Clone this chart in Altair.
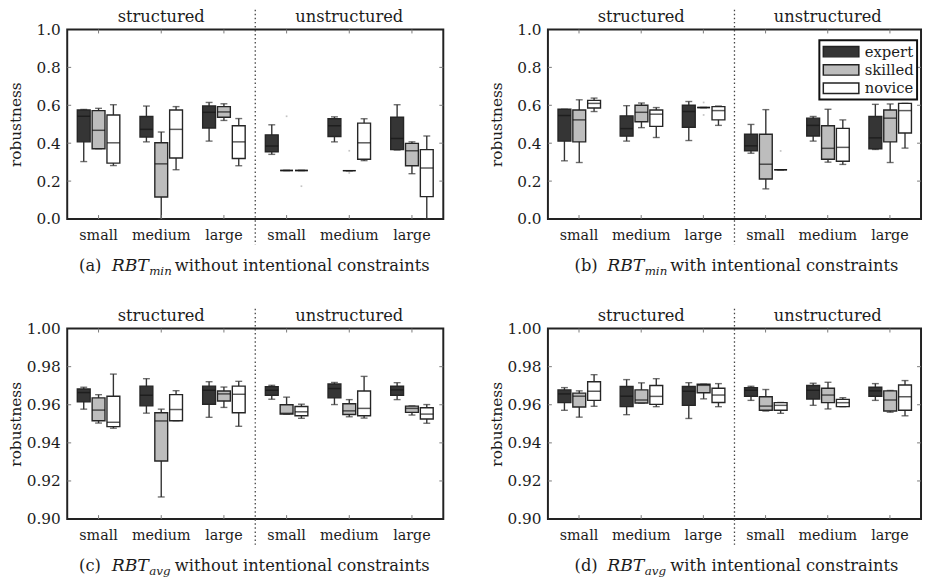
import altair as alt
import pandas as pd

groups = ["structured small", "structured medium", "structured large",
          "unstructured small", "unstructured medium", "unstructured large"]
levels = ["expert", "skilled", "novice"]
level_fill = ["#353535", "#bdbdbd", "#ffffff"]

# (low whisker, q1, median, q3, high whisker) per group
a_expert = [(0.303, 0.407, 0.542, 0.575, 0.578), (0.407, 0.433, 0.473, 0.541, 0.596),
            (0.411, 0.480, 0.563, 0.596, 0.615), (0.341, 0.355, 0.385, 0.444, 0.497),
            (0.407, 0.435, 0.492, 0.529, 0.539), (0.364, 0.366, 0.425, 0.537, 0.603)]
a_skilled = [(0.371, 0.371, 0.468, 0.572, 0.584), (0.000, 0.116, 0.291, 0.402, 0.459),
             (0.520, 0.537, 0.565, 0.593, 0.608), (0.256, 0.256, 0.256, 0.256, 0.256),
             (0.255, 0.255, 0.255, 0.255, 0.255), (0.239, 0.281, 0.360, 0.399, 0.407)]
a_novice = [(0.282, 0.295, 0.402, 0.549, 0.603), (0.260, 0.322, 0.473, 0.575, 0.593),
            (0.281, 0.319, 0.407, 0.492, 0.530), (0.256, 0.256, 0.256, 0.256, 0.256),
            (0.308, 0.315, 0.402, 0.506, 0.529), (0.000, 0.118, 0.269, 0.366, 0.438)]

b_expert = [(0.307, 0.411, 0.546, 0.579, 0.579), (0.411, 0.437, 0.477, 0.544, 0.598),
            (0.414, 0.484, 0.567, 0.600, 0.620), (0.347, 0.360, 0.386, 0.447, 0.499),
            (0.411, 0.438, 0.494, 0.532, 0.541), (0.367, 0.371, 0.428, 0.541, 0.605)]
b_skilled = [(0.298, 0.407, 0.523, 0.575, 0.629), (0.482, 0.513, 0.563, 0.600, 0.612),
             (0.588, 0.588, 0.588, 0.588, 0.588), (0.159, 0.211, 0.289, 0.447, 0.577),
             (0.300, 0.315, 0.373, 0.492, 0.579), (0.298, 0.407, 0.532, 0.575, 0.607)]
b_novice = [(0.567, 0.586, 0.610, 0.626, 0.638), (0.430, 0.489, 0.553, 0.575, 0.588),
            (0.494, 0.523, 0.572, 0.593, 0.596), (0.260, 0.260, 0.260, 0.260, 0.260),
            (0.288, 0.305, 0.378, 0.478, 0.523), (0.374, 0.454, 0.572, 0.610, 0.610)]

c_expert = [(0.9577, 0.9615, 0.9664, 0.9683, 0.9692), (0.9556, 0.9594, 0.9650, 0.9698, 0.9737),
            (0.9534, 0.9603, 0.9676, 0.9698, 0.9721), (0.9629, 0.9650, 0.9676, 0.9695, 0.9702),
            (0.9601, 0.9636, 0.9685, 0.9709, 0.9717), (0.9627, 0.9650, 0.9678, 0.9697, 0.9716)]
c_skilled = [(0.9504, 0.9516, 0.9572, 0.9636, 0.9653), (0.9116, 0.9305, 0.9515, 0.9558, 0.9577),
             (0.9586, 0.9620, 0.9657, 0.9672, 0.9693), (0.9551, 0.9551, 0.9555, 0.9600, 0.9640),
             (0.9537, 0.9549, 0.9568, 0.9605, 0.9627), (0.9546, 0.9560, 0.9581, 0.9593, 0.9594)]
c_novice = [(0.9477, 0.9485, 0.9508, 0.9645, 0.9761), (0.9516, 0.9516, 0.9575, 0.9653, 0.9674),
            (0.9487, 0.9558, 0.9655, 0.9698, 0.9723), (0.9529, 0.9542, 0.9563, 0.9591, 0.9603),
            (0.9530, 0.9542, 0.9581, 0.9672, 0.9749), (0.9503, 0.9525, 0.9551, 0.9584, 0.9601)]

d_expert = [(0.9571, 0.9611, 0.9657, 0.9678, 0.9690), (0.9548, 0.9590, 0.9645, 0.9696, 0.9732),
            (0.9528, 0.9597, 0.9671, 0.9696, 0.9716), (0.9623, 0.9645, 0.9676, 0.9690, 0.9697),
            (0.9597, 0.9630, 0.9676, 0.9701, 0.9713), (0.9623, 0.9645, 0.9673, 0.9692, 0.9711)]
d_skilled = [(0.9535, 0.9588, 0.9645, 0.9661, 0.9673), (0.9609, 0.9609, 0.9625, 0.9678, 0.9715),
             (0.9631, 0.9663, 0.9702, 0.9708, 0.9708), (0.9567, 0.9571, 0.9593, 0.9642, 0.9680),
             (0.9578, 0.9611, 0.9651, 0.9687, 0.9718), (0.9561, 0.9567, 0.9625, 0.9673, 0.9675)]
d_novice = [(0.9592, 0.9623, 0.9671, 0.9721, 0.9758), (0.9590, 0.9602, 0.9644, 0.9701, 0.9737),
            (0.9590, 0.9612, 0.9651, 0.9687, 0.9711), (0.9555, 0.9571, 0.9597, 0.9611, 0.9612),
            (0.9590, 0.9590, 0.9611, 0.9628, 0.9637), (0.9542, 0.9571, 0.9642, 0.9704, 0.9727)]

# faint outlier marks (group, level, value)
a_outliers = [("unstructured small", "skilled", 0.542), ("unstructured small", "novice", 0.173),
              ("unstructured medium", "skilled", 0.360), ("unstructured medium", "skilled", 0.243)]
b_outliers = [("structured large", "skilled", 0.615), ("structured large", "skilled", 0.549),
              ("unstructured small", "novice", 0.359)]

min_ticks = [0.0, 0.2, 0.4, 0.6, 0.8, 1.0]
avg_ticks = [0.90, 0.92, 0.94, 0.96, 0.98, 1.00]

captions = [
    ("(a)", "min", "without intentional constraints"),
    ("(b)", "min", "with intentional constraints"),
    ("(c)", "avg", "without intentional constraints"),
    ("(d)", "avg", "with intentional constraints"),
]
header_groups = ["structured medium", "unstructured medium"]
header_labels = ["structured", "unstructured"]

FONT = "DejaVu Serif"
INK = "#1c1c1c"


def box_table(expert, skilled, novice):
    rows = []
    for lev, stats in zip(levels, [expert, skilled, novice]):
        for g, (lo, q1, md, q3, hi) in zip(groups, stats):
            rows.append(dict(group=g, level=lev, low=lo, q1=q1, med=md, q3=q3, high=hi))
    return pd.DataFrame(rows)


def panel(df, outl, ydom, yticks, yfmt, cap, W, H, xcap, legend=None):
    xs = alt.Scale(domain=groups, paddingInner=0, paddingOuter=0)
    xaxis = alt.Axis(ticks=False, domain=False, grid=False, labelAngle=0,
                     labelExpr="split(datum.label, ' ')[1]", labelFont=FONT,
                     labelFontSize=14.5, labelColor=INK, labelPadding=10)

    def X(bp=None):
        if bp is None:
            return alt.X("group:N", scale=xs, axis=xaxis, title=None)
        return alt.X("group:N", scale=xs, axis=xaxis, title=None, bandPosition=bp)

    ys = alt.Scale(domain=ydom, nice=False, zero=False)
    yaxis = alt.Axis(values=yticks, format=yfmt, ticks=False, domain=False, grid=False,
                     labelFont=FONT, labelFontSize=15.5, labelColor=INK, labelPadding=7,
                     titleFont=FONT, titleFontSize=15.5, titleFontWeight="normal",
                     titleColor=INK, titlePadding=8, minExtent=36, maxExtent=36)

    def Y(f):
        return alt.Y(f, scale=ys, axis=yaxis, title="robustness")

    xo = alt.XOffset("level:N", scale=alt.Scale(domain=levels, paddingInner=0.133,
                                                 paddingOuter=0.68))
    base = alt.Chart(df)
    whisk = base.mark_rule(color="#333333", strokeWidth=1.4).encode(
        x=X(), xOffset=xo, y=Y("low:Q"), y2="high:Q")
    cap_lo = base.mark_tick(color="#333333", size=7, thickness=1.4).encode(
        x=X(), xOffset=xo, y=Y("low:Q"))
    cap_hi = base.mark_tick(color="#333333", size=7, thickness=1.4).encode(
        x=X(), xOffset=xo, y=Y("high:Q"))
    box = base.mark_bar(stroke="#262626", strokeWidth=1.4).encode(
        x=X(), xOffset=xo, y=Y("q1:Q"), y2="q3:Q",
        fill=alt.Fill("level:N", scale=alt.Scale(domain=levels, range=level_fill),
                      legend=legend))
    med = base.mark_tick(color="#151515", size=13, thickness=1.5).encode(
        x=X(), xOffset=xo, y=Y("med:Q"))
    layers = [whisk, cap_lo, cap_hi, box, med]

    if outl:
        odf = pd.DataFrame(outl, columns=["group", "level", "v"])
        layers.append(alt.Chart(odf).mark_square(size=3, color="#c4c4c4", opacity=1).encode(
            x=X(), xOffset=xo, y=Y("v:Q")))

    inner = [v for v in yticks[1:-1]]
    ytdf = pd.DataFrame({"v": inner})
    xtdf = pd.DataFrame({"group": groups})
    tick_style = dict(color="#7a7a7a", strokeWidth=1)
    layers += [
        alt.Chart(ytdf).mark_rule(**tick_style).encode(y=Y("v:Q"), x=alt.value(0), x2=alt.value(4)),
        alt.Chart(ytdf).mark_rule(**tick_style).encode(y=Y("v:Q"), x=alt.value(W - 4), x2=alt.value(W)),
        alt.Chart(xtdf).mark_rule(**tick_style).encode(x=X(), y=alt.value(0), y2=alt.value(4)),
        alt.Chart(xtdf).mark_rule(**tick_style).encode(x=X(), y=alt.value(H - 4), y2=alt.value(H)),
    ]

    sep = alt.Chart(pd.DataFrame({"group": ["unstructured small"]})).mark_rule(
        color="#444444", strokeDash=[1.5, 2.6], strokeWidth=1.3).encode(
        x=X(bp=0), y=alt.value(-20), y2=alt.value(H + 26))
    hdr = alt.Chart(pd.DataFrame({"group": header_groups, "label": header_labels})).mark_text(
        font=FONT, fontSize=16.5, color=INK, baseline="alphabetic").encode(
        x=X(), y=alt.value(-7.5), text="label:N")
    layers += [sep, hdr]

    prefix, sub, rest = cap
    cy = H + 53
    pieces = [
        (prefix, xcap[0], cy, 16.5, "normal"),
        ("RBT", xcap[1], cy, 17.5, "italic"),
        (sub, xcap[2], cy + 4, 12, "italic"),
        (rest, xcap[3], cy, 16.5, "normal"),
    ]
    for txt, px, py, fs, st in pieces:
        layers.append(alt.Chart(pd.DataFrame({"t": [txt]})).mark_text(
            align="left", baseline="alphabetic", font=FONT, fontSize=fs, fontStyle=st,
            color=INK).encode(x=alt.value(px), y=alt.value(py), text="t:N"))

    return alt.layer(*layers).properties(width=W, height=H)


legend_b = alt.Legend(orient="none", legendX=275, legendY=11, title=None,
                      symbolType="M-1,-0.7H3.8V0.7H-1Z", symbolSize=225,
                      symbolStrokeColor="#222222", symbolStrokeWidth=1.5, symbolOpacity=1,
                      labelFont=FONT, labelFontSize=15, labelColor=INK, labelOffset=26,
                      strokeColor="#111111", fillColor="white", padding=3, rowPadding=1.5)

left_cap = [12, 45, 83, 109]
right_cap = [27, 60, 98, 124]

pa = panel(box_table(a_expert, a_skilled, a_novice), a_outliers, [0, 1], min_ticks, ".1f",
           captions[0], 381, 192, left_cap)
pb = panel(box_table(b_expert, b_skilled, b_novice), b_outliers, [0, 1], min_ticks, ".1f",
           captions[1], 378, 192, right_cap, legend=legend_b)
pc = panel(box_table(c_expert, c_skilled, c_novice), None, [0.9, 1.0], avg_ticks, ".2f",
           captions[2], 381, 193, left_cap)
pd_ = panel(box_table(d_expert, d_skilled, d_novice), None, [0.9, 1.0], avg_ticks, ".2f",
            captions[3], 378, 193, right_cap)

row1 = alt.hconcat(pa, pb, spacing=44).resolve_scale(fill="independent")
row2 = alt.hconcat(pc, pd_, spacing=44).resolve_scale(fill="independent")
chart = alt.vconcat(row1, row2, spacing=29).resolve_scale(fill="independent").properties(
    padding={"left": 0, "top": -4, "right": 0, "bottom": 0}
).configure_view(stroke="#222222", strokeWidth=2).configure_legend(strokeWidth=2)

chart.save("out.html", embed_options={"renderer": "svg", "actions": False})
